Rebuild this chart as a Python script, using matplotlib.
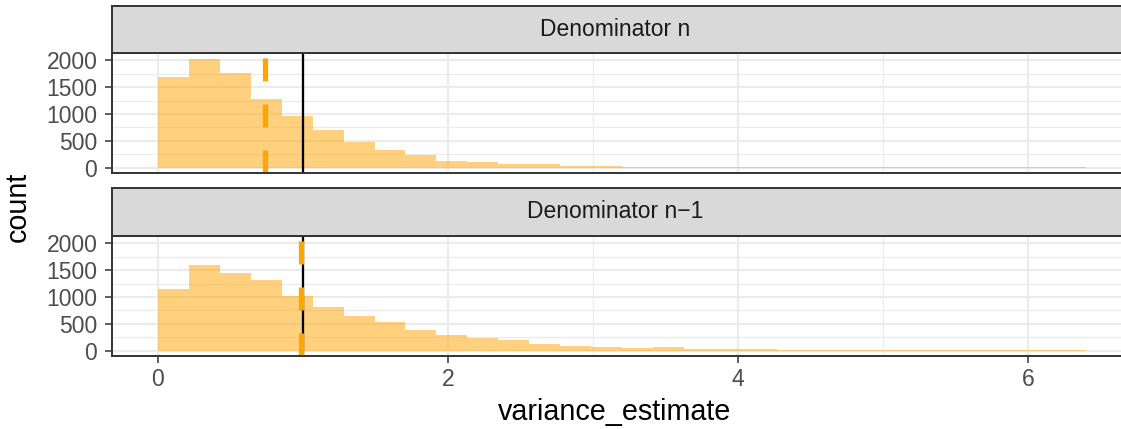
import numpy as np
import matplotlib
matplotlib.use("Agg")
import matplotlib.pyplot as plt
from matplotlib.patches import Rectangle

# ---- data ----
bin_edges = np.linspace(0.0, 6.4, 31)
panels = ["Denominator n", "Denominator n\u22121"]
counts_n = [1689, 2024, 1763, 1279, 963, 702, 479, 330, 236, 130,
            112, 75, 75, 37, 37, 14, 12, 11, 10, 9,
            5, 4, 3, 3, 2, 2, 2, 1, 1, 1]
counts_n1 = [1145, 1598, 1449, 1313, 1015, 810, 642, 530, 382, 285,
             242, 205, 118, 93, 75, 56, 75, 37, 37, 37,
             10, 9, 8, 7, 6, 5, 4, 3, 2, 2]
mean_estimates = [0.738, 0.986]
true_variance = 1.0
x_ticks = [0, 2, 4, 6]
y_ticks = [0, 500, 1000, 1500, 2000]

W, H = 1121, 429
DPI = 100
plt.rcParams['font.family'] = ['Liberation Sans', 'DejaVu Sans']

fig = plt.figure(figsize=(W / DPI, H / DPI), dpi=DPI)

def fx(px):
    return px / W

def fy(py):
    return 1 - py / H

left_px, right_px = 111.6, 1132.0
panel_px = [(53, 173), (236, 356)]
strip_px = [(6, 53), (188, 236)]

border_col = '#333333'
grid_col = '#EBEBEB'
fill_col = 'orange'

all_counts = [counts_n, counts_n1]
widths = np.diff(bin_edges)

for i in range(2):
    top, bot = panel_px[i]
    ax = fig.add_axes([fx(left_px), fy(bot), fx(right_px - left_px), (bot - top) / H])
    ax.set_xlim(-0.32, 6.718)
    ax.set_ylim(-101.7, 2136)
    ax.set_facecolor('white')
    # grid
    for xv in [1, 3, 5]:
        ax.axvline(xv, color=grid_col, lw=0.8, zorder=0)
    for yv in [250, 750, 1250, 1750]:
        ax.axhline(yv, color=grid_col, lw=0.8, zorder=0)
    for xv in x_ticks:
        ax.axvline(xv, color=grid_col, lw=1.5, zorder=0)
    for yv in y_ticks:
        ax.axhline(yv, color=grid_col, lw=1.5, zorder=0)
    ax.bar(bin_edges[:-1], all_counts[i], width=widths, align='edge',
           color=fill_col, alpha=0.5, linewidth=0, zorder=2)
    ax.axvline(true_variance, color='black', lw=1.65, zorder=3)
    ax.axvline(mean_estimates[i], ymin=0, ymax=1, color='orange', lw=3.8,
               linestyle=(0, (4.36, 4.36)), zorder=4)
    for sp in ax.spines.values():
        sp.set_color(border_col)
        sp.set_linewidth(1.4)
        sp.set_zorder(5)
    ax.set_yticks(y_ticks)
    ax.set_yticklabels([str(v) for v in y_ticks])
    ax.tick_params(axis='y', length=4.8, width=1.1, color=border_col,
                   labelsize=16.5, labelcolor='#4D4D4D', pad=5.5)
    if i == 1:
        ax.set_xticks(x_ticks)
        ax.set_xticklabels([str(v) for v in x_ticks])
        ax.tick_params(axis='x', length=4.8, width=1.1, color=border_col,
                       labelsize=16.5, labelcolor='#4D4D4D', pad=4)
    else:
        ax.set_xticks([])

    # strip
    st, sb = strip_px[i]
    sax = fig.add_axes([fx(left_px), fy(sb), fx(right_px - left_px), (sb - st) / H])
    sax.set_xticks([]); sax.set_yticks([])
    sax.set_facecolor('#D9D9D9')
    for sp in sax.spines.values():
        sp.set_color(border_col)
        sp.set_linewidth(1.4)
    sax.text(fx(615 - left_px) / fx(right_px - left_px), 0.5, panels[i],
             transform=sax.transAxes, ha='center', va='center',
             fontsize=16.5, color='#1A1A1A')

fig.text(fx(615), fy(412), 'variance_estimate', ha='center', va='center',
         fontsize=20.7, color='black')
fig.text(fx(18), fy(207), 'count', ha='center', va='center', rotation=90,
         fontsize=20.7, color='black')

fig.savefig('out.png', dpi=DPI)
